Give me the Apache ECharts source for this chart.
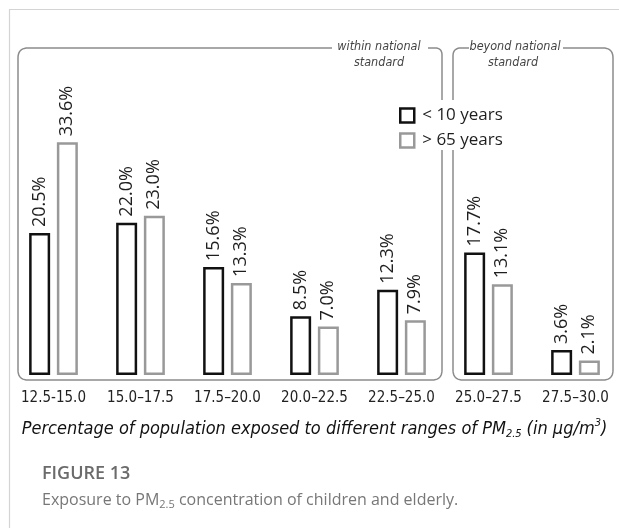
<!DOCTYPE html>
<html>
<head>
<meta charset="utf-8">
<script src="https://cdn.jsdelivr.net/npm/echarts@6/dist/echarts.min.js"></script>
<style>
html,body{margin:0;padding:0;background:#fff;}
#c{width:619px;height:528px;}
</style>
</head>
<body>
<div id="c"></div>
<script>
// ---- data ----
var categories = ['12.5-15.0', '15.0\u201317.5', '17.5\u201320.0', '20.0\u201322.5', '22.5\u201325.0', '25.0\u201327.5', '27.5\u201330.0'];
var seriesNames = ['< 10 years', '> 65 years'];
var children = [20.5, 22.0, 15.6, 8.5, 12.3, 17.7, 3.6];
var elderly = [33.6, 23.0, 13.3, 7.0, 7.9, 13.1, 2.1];

var NARROW = '"Liberation Sans Narrow", "DejaVu Sans Condensed", "Noto Sans", sans-serif';
var LABELF = '"Open Sans", "Noto Sans", sans-serif';

// rounded-corner polyline helper (decoration only)
function rounded(pts, r) {
  var out = [pts[0]];
  for (var i = 1; i < pts.length - 1; i++) {
    var p0 = pts[i - 1], p1 = pts[i], p2 = pts[i + 1];
    var d1 = Math.hypot(p1[0] - p0[0], p1[1] - p0[1]);
    var d2 = Math.hypot(p2[0] - p1[0], p2[1] - p1[1]);
    var rr = Math.min(r, d1 / 2, d2 / 2);
    var a = [p1[0] + (p0[0] - p1[0]) * rr / d1, p1[1] + (p0[1] - p1[1]) * rr / d1];
    var b = [p1[0] + (p2[0] - p1[0]) * rr / d2, p1[1] + (p2[1] - p1[1]) * rr / d2];
    for (var t = 0; t <= 1.0001; t += 0.1) {
      var x = (1 - t) * (1 - t) * a[0] + 2 * (1 - t) * t * p1[0] + t * t * b[0];
      var y = (1 - t) * (1 - t) * a[1] + 2 * (1 - t) * t * p1[1] + t * t * b[1];
      out.push([x, y]);
    }
  }
  out.push(pts[pts.length - 1]);
  return out;
}

var chart = echarts.init(document.getElementById('c'), null, {renderer: 'canvas'});

function labelCfg() {
  return {
    show: true,
    position: 'top',
    rotate: 90,
    align: 'left',
    verticalAlign: 'middle',
    distance: 6,
    fontFamily: LABELF,
    fontSize: 18,
    color: '#1e1e1e',
    formatter: function (p) { return p.value.toFixed(1) + '%'; }
  };
}

var grey = '#8c8c8c';
function bracket(pts) {
  return {type: 'polyline', shape: {points: rounded(pts, 10)}, style: {stroke: grey, lineWidth: 1.5, fill: null}, silent: true};
}

var option = {
  animation: false,
  backgroundColor: '#fff',
  grid: {left: 10, right: 0, top: 98, bottom: 153, containLabel: false},
  legend: {
    orient: 'vertical',
    left: 394, top: 102,
    itemWidth: 14, itemHeight: 14,
    itemGap: 8,
    icon: 'rect',
    textStyle: {fontFamily: LABELF, fontSize: 17, color: '#1e1e1e', padding: [0, 0, 0, 3]},
    data: [
      {name: seriesNames[0], itemStyle: {color: '#fff', borderColor: '#111', borderWidth: 2.5}},
      {name: seriesNames[1], itemStyle: {color: '#fff', borderColor: '#999', borderWidth: 2.5}}
    ]
  },
  xAxis: {
    type: 'category',
    data: categories,
    axisLine: {show: false},
    axisTick: {show: false},
    axisLabel: {margin: 16, fontFamily: NARROW, fontSize: 15, color: '#222', interval: 0},
    name: '{i|Percentage of population exposed to different ranges of PM}{sub|2.5}{i|(in \u03bcg/m}{sup|3}{i|)}',
    nameLocation: 'middle',
    nameGap: 43,
    nameTextStyle: {
      rich: {
        i: {fontFamily: NARROW, fontStyle: 'italic', fontSize: 18, color: '#111', lineHeight: 22, verticalAlign: 'middle'},
        sub: {fontFamily: NARROW, fontStyle: 'italic', fontSize: 11, color: '#111', lineHeight: 9, verticalAlign: 'bottom', padding: [0, 5, 0, 0]},
        sup: {fontFamily: NARROW, fontStyle: 'italic', fontSize: 11, color: '#111', lineHeight: 11, verticalAlign: 'top'}
      }
    }
  },
  yAxis: {
    type: 'value', min: 0, max: 40, show: false,
    splitLine: {show: false}
  },
  series: [
    {
      name: seriesNames[0], type: 'bar', data: children,
      barWidth: 21, barGap: '32%',
      itemStyle: {color: '#fff', borderColor: '#111', borderWidth: 2.5},
      label: labelCfg()
    },
    {
      name: seriesNames[1], type: 'bar', data: elderly,
      barWidth: 21,
      itemStyle: {color: '#fff', borderColor: '#999', borderWidth: 2.5},
      label: labelCfg()
    }
  ],
  graphic: [
    // card frame
    {type: 'polyline', shape: {points: [[9.5, 528], [9.5, 9.5], [619, 9.5]]}, style: {stroke: '#d4d4d4', lineWidth: 1.2, fill: null}, silent: true},
    // box 1 (within national standard)
    bracket([[332, 48], [18, 48], [18, 380], [442, 380], [442, 150]]),
    bracket([[442, 100], [442, 48], [428, 48]]),
    // box 2 (beyond national standard)
    bracket([[453, 100], [453, 48], [469, 48]]),
    bracket([[563, 48], [613, 48], [613, 380], [453, 380], [453, 150]]),
    {type: 'text', x: 379, y: 47, style: {text: 'within national', fontFamily: NARROW, fontStyle: 'italic', fontSize: 12.5, fill: '#444', align: 'center', verticalAlign: 'middle'}, silent: true},
    {type: 'text', x: 379, y: 63, style: {text: 'standard', fontFamily: NARROW, fontStyle: 'italic', fontSize: 12.5, fill: '#444', align: 'center', verticalAlign: 'middle'}, silent: true},
    {type: 'text', x: 515, y: 47, style: {text: 'beyond national', fontFamily: NARROW, fontStyle: 'italic', fontSize: 12.5, fill: '#444', align: 'center', verticalAlign: 'middle'}, silent: true},
    {type: 'text', x: 513, y: 63, style: {text: 'standard', fontFamily: NARROW, fontStyle: 'italic', fontSize: 12.5, fill: '#444', align: 'center', verticalAlign: 'middle'}, silent: true},
    // caption
    {type: 'text', x: 42, y: 474, style: {text: 'FIGURE 13', fontFamily: '"Open Sans", "Noto Sans", sans-serif', fontWeight: 600, fontSize: 18, fill: '#6b6b6b', verticalAlign: 'middle'}, silent: true},
    {type: 'text', x: 42, y: 500, style: {
      text: '{a|Exposure to PM}{s|2.5}{a| concentration of children and elderly.}',
      verticalAlign: 'middle',
      rich: {
        a: {fontFamily: '"Open Sans", "Noto Sans", sans-serif', fontSize: 16, fill: '#777', lineHeight: 20, verticalAlign: 'middle'},
        s: {fontFamily: '"Open Sans", "Noto Sans", sans-serif', fontSize: 11, fill: '#777', lineHeight: 11, verticalAlign: 'bottom'}
      }
    }, silent: true}
  ]
};
chart.setOption(option);
</script>
</body>
</html>
